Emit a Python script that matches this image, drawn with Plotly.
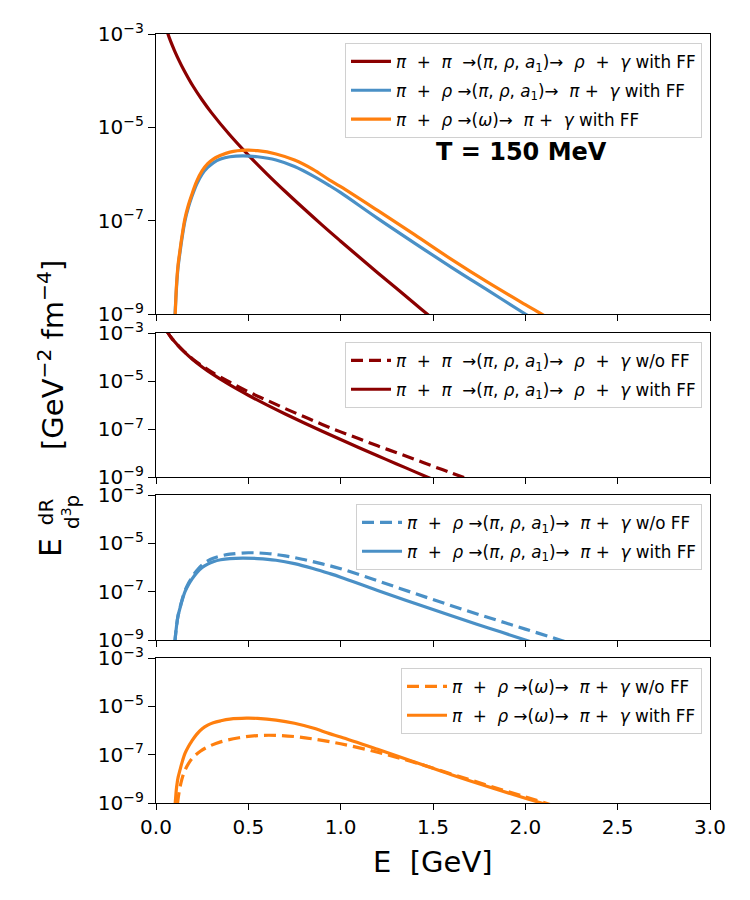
import numpy as np
import plotly.graph_objects as go

# ---------------- data (log10 of E dR/d3p) ----------------
E_pipi_ff = [0.058, 0.065, 0.08, 0.1, 0.125, 0.15, 0.2, 0.25, 0.3, 0.4, 0.5, 0.6, 0.7, 0.8, 0.9, 1.0, 1.1, 1.2, 1.3, 1.4, 1.5, 1.6]
lg_pipi_ff = [-2.9, -3.0, -3.165, -3.355, -3.57, -3.765, -4.115, -4.415, -4.685, -5.165, -5.595, -5.995, -6.375, -6.74, -7.095, -7.44, -7.78, -8.115, -8.445, -8.775, -9.105, -9.43]

E_pipi_noff = [0.058, 0.065, 0.08, 0.1, 0.125, 0.15, 0.2, 0.25, 0.3, 0.4, 0.5, 0.6, 0.7, 0.8, 0.9, 1.0, 1.1, 1.2, 1.3, 1.4, 1.5, 1.6, 1.7]
lg_pipi_noff = [-2.9, -3.0, -3.165, -3.355, -3.565, -3.755, -4.09, -4.37, -4.62, -5.05, -5.45, -5.8, -6.15, -6.48, -6.81, -7.12, -7.41, -7.7, -7.98, -8.26, -8.55, -8.83, -9.12]

E_pirho_ff = [0.102, 0.105, 0.11, 0.115, 0.12, 0.13, 0.14, 0.157, 0.175, 0.193, 0.22, 0.25, 0.28, 0.31, 0.35, 0.4, 0.47, 0.55, 0.65, 0.75, 0.85, 0.94, 1.0, 1.2, 1.4, 1.6, 1.8, 2.0, 2.1]
lg_pirho_ff = [-9.1, -8.85, -8.5, -8.2, -7.98, -7.68, -7.4, -7.0, -6.72, -6.5, -6.22, -6.0, -5.86, -5.76, -5.68, -5.63, -5.61, -5.63, -5.7, -5.84, -6.04, -6.25, -6.4, -6.95, -7.48, -8.0, -8.5, -9.0, -9.25]

E_pirho_noff = [0.102, 0.105, 0.11, 0.115, 0.12, 0.13, 0.14, 0.157, 0.175, 0.193, 0.22, 0.25, 0.28, 0.31, 0.35, 0.4, 0.5, 0.6, 0.7, 0.8, 0.9, 1.0, 1.2, 1.4, 1.6, 1.8, 2.0, 2.2, 2.3]
lg_pirho_noff = [-9.1, -8.85, -8.5, -8.2, -7.97, -7.66, -7.37, -6.96, -6.66, -6.43, -6.13, -5.89, -5.73, -5.62, -5.52, -5.45, -5.39, -5.42, -5.52, -5.67, -5.85, -6.05, -6.55, -7.07, -7.58, -8.07, -8.55, -9.03, -9.28]

E_omega_ff = [0.103, 0.106, 0.11, 0.115, 0.12, 0.13, 0.14, 0.157, 0.175, 0.193, 0.22, 0.25, 0.28, 0.31, 0.35, 0.4, 0.49, 0.55, 0.65, 0.75, 0.85, 0.94, 1.0, 1.2, 1.4, 1.6, 1.8, 2.0, 2.1, 2.2]
lg_omega_ff = [-9.1, -8.82, -8.45, -8.15, -7.93, -7.63, -7.35, -6.95, -6.67, -6.45, -6.16, -5.93, -5.78, -5.68, -5.6, -5.53, -5.49, -5.5, -5.57, -5.7, -5.9, -6.13, -6.27, -6.78, -7.3, -7.83, -8.33, -8.8, -9.03, -9.27]

E_omega_noff = [0.116, 0.122, 0.13, 0.14, 0.155, 0.175, 0.2, 0.24, 0.28, 0.35, 0.45, 0.55, 0.65, 0.75, 0.85, 1.0, 1.2, 1.4, 1.6, 1.8, 2.0, 2.15, 2.25]
lg_omega_noff = [-9.05, -8.7, -8.35, -8.02, -7.68, -7.38, -7.12, -6.86, -6.68, -6.47, -6.3, -6.21, -6.2, -6.25, -6.35, -6.55, -6.9, -7.32, -7.8, -8.28, -8.75, -9.1, -9.35]

ytick_vals = [1e-3, 1e-5, 1e-7, 1e-9]
ytick_text = ["10<sup>−3</sup>", "10<sup>−5</sup>", "10<sup>−7</sup>", "10<sup>−9</sup>"]
xtick_vals = [0.0, 0.5, 1.0, 1.5, 2.0, 2.5, 3.0]
xtick_text = ["0.0", "0.5", "1.0", "1.5", "2.0", "2.5", "3.0"]

lab_pipi = "<i>π</i>  +  <i>π</i>  →(<i>π</i>, <i>ρ</i>, <i>a</i><sub>1</sub>)→  <i>ρ</i>  +  <i>γ</i>"
lab_pirho = "<i>π</i>  +  <i>ρ</i> →(<i>π</i>, <i>ρ</i>, <i>a</i><sub>1</sub>)→  <i>π</i> +  <i>γ</i>"
lab_omega = "<i>π</i>  +  <i>ρ</i> →(<i>ω</i>)→  <i>π</i> +  <i>γ</i>"
lab_pipi = lab_pipi.replace("  ", "\u00a0\u00a0")
lab_pirho = lab_pirho.replace("  ", "\u00a0\u00a0")
lab_omega = lab_omega.replace("  ", "\u00a0\u00a0")

DARKRED = "#8b0000"
BLUE = "#4a90c6"
ORANGE = "#ff7f0e"
FONT = "DejaVu Sans"

# ---------------- layout geometry (pixels) ----------------
W, H = 750, 900
L, R, T, B = 156, 710, 34, 803


def xp(px):
    return (px - L) / (R - L)


def yp(py):
    return (B - py) / (B - T)


panels = [(34, 314), (333, 477), (495, 640), (658, 803)]
legend_tops = [43, 342, 504, 668]

fig = go.Figure()
_count = [0]


def add(E, lg, color, dash, name, row):
    ax = "" if row == 1 else str(row)
    _count[0] += 1
    fig.add_trace(go.Scatter(
        x=E, y=10 ** np.array(lg), mode="lines",
        line=dict(color=color, width=3.2, dash=dash, shape="spline", smoothing=1.0),
        name=name, xaxis="x" + ax, yaxis="y" + ax,
        legend="legend" + ax, legendgroup="g%d" % _count[0],
    ))


DASH = "12px,6px"
add(E_pipi_ff, lg_pipi_ff, DARKRED, "solid", lab_pipi + " with FF", 1)
add(E_pirho_ff, lg_pirho_ff, BLUE, "solid", lab_pirho + " with FF", 1)
add(E_omega_ff, lg_omega_ff, ORANGE, "solid", lab_omega + " with FF", 1)

add(E_pipi_noff, lg_pipi_noff, DARKRED, DASH, lab_pipi + " w/o FF", 2)
add(E_pipi_ff, lg_pipi_ff, DARKRED, "solid", lab_pipi + " with FF", 2)

add(E_pirho_noff, lg_pirho_noff, BLUE, DASH, lab_pirho + " w/o FF", 3)
add(E_pirho_ff, lg_pirho_ff, BLUE, "solid", lab_pirho + " with FF", 3)

add(E_omega_noff, lg_omega_noff, ORANGE, DASH, lab_omega + " w/o FF", 4)
add(E_omega_ff, lg_omega_ff, ORANGE, "solid", lab_omega + " with FF", 4)

layout = dict(
    width=W, height=H,
    margin=dict(l=L, r=W - R, t=T, b=H - B, pad=0),
    paper_bgcolor="white", plot_bgcolor="white",
    font=dict(family=FONT, size=20, color="black"),
    showlegend=True,
)

for i, (top, bot) in enumerate(panels):
    n = i + 1
    ax = "" if n == 1 else str(n)
    layout["xaxis" + ax] = dict(
        domain=[0, 1], range=[0, 3], anchor="y" + ax,
        showline=True, mirror=True, linecolor="black", linewidth=1.3,
        ticks="outside", ticklen=6, tickwidth=1.2, tickcolor="black",
        tickvals=xtick_vals, ticktext=xtick_text,
        showticklabels=(n == 4), showgrid=False, zeroline=False,
        tickfont=dict(size=20),
        **({} if n == 1 else {"matches": "x"}),
    )
    layout["yaxis" + ax] = dict(
        domain=[yp(bot), yp(top)], type="log", range=[-9, -3], anchor="x" + ax,
        showline=True, mirror=True, linecolor="black", linewidth=1.3,
        ticks="outside", ticklen=7, tickwidth=1.2, tickcolor="black",
        tickvals=ytick_vals, ticktext=ytick_text,
        showgrid=False, zeroline=False, tickfont=dict(size=20),
    )
    layout["legend" + ax] = dict(
        x=xp(702), y=yp(legend_tops[i]), xanchor="right", yanchor="top",
        xref="paper", yref="paper",
        bgcolor="rgba(255,255,255,0.85)", bordercolor="#d0d0d0", borderwidth=1,
        font=dict(family=FONT, size=16.8, color="black"),
        itemwidth=40, tracegroupgap=4, groupclick="toggleitem",
    )

fig.update_layout(**layout)

ann = [
    dict(text="<b>T = 150 MeV</b>", x=xp(521), y=yp(152), font=dict(size=24)),
    dict(text="E\u00a0\u00a0[GeV]", x=xp(433), y=yp(862), font=dict(size=29)),
    dict(text="E", x=xp(50), y=yp(548), font=dict(size=30), textangle=-90),
    dict(text="dR<br>d<sup>3</sup>p", x=xp(59), y=yp(512), font=dict(size=20), textangle=-90),
    dict(text="[GeV<sup>−2</sup> fm<sup>−4</sup>]", x=xp(51), y=yp(355), font=dict(size=29), textangle=-90),
]
for a in ann:
    fig.add_annotation(xref="paper", yref="paper", xanchor="center", yanchor="middle",
                       showarrow=False, **a)

fig.write_html("out.html")
